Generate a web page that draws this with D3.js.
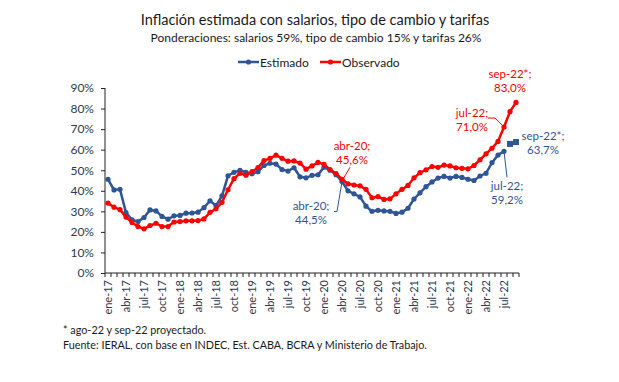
<!DOCTYPE html>
<html><head><meta charset="utf-8">
<script src="https://cdn.jsdelivr.net/npm/d3@7"></script>
<style>body{margin:0;background:#fff}svg{display:block}text{font-family:Lato,"Open Sans",sans-serif}</style>
</head><body><svg id="c" width="619" height="382"></svg>
<script>
const monthNames = ["ene","feb","mar","abr","may","jun","jul","ago","sep","oct","nov","dic"];
const years = ["17","18","19","20","21","22"];
const categories = [];
years.forEach(y => monthNames.forEach(m => categories.push(m + "-" + y)));
categories.splice(69); // ene-17 .. sep-22

const estimado = [
  45.6, 40.4, 40.7, 29.4, 25.9, 25.0, 27.0, 30.7, 30.2, 27.5, 26.2, 27.8,
  28.0, 29.1, 29.2, 29.6, 31.8, 35.1, 32.8, 37.5, 47.3, 49.0, 49.9, 49.0,
  48.3, 49.3, 52.3, 53.4, 53.0, 50.3, 49.6, 51.2, 46.8, 46.3, 47.5, 47.8,
  51.5, 50.0, 47.8, 44.5, 40.0, 38.5, 37.0, 32.5, 30.0, 30.5, 30.2, 30.0,
  29.0, 29.6, 31.5, 36.0, 39.0, 42.0, 44.3, 46.2, 47.0, 46.2, 47.0, 46.5,
  45.6, 45.0, 47.2, 48.5, 53.7, 57.4, 59.2
];
const estimadoProy = [62.8, 63.7]; // ago-22, sep-22
const observado = [
  34.0, 32.0, 30.8, 27.2, 24.6, 22.6, 21.5, 23.1, 24.2, 22.6, 22.6, 24.8,
  25.0, 25.4, 25.4, 25.5, 26.3, 29.5, 31.2, 34.4, 40.5, 45.9, 48.5, 47.6,
  49.3, 51.3, 54.7, 55.8, 57.3, 55.8, 54.4, 54.5, 53.5, 50.5, 52.1, 53.8,
  52.9, 50.3, 48.4, 45.6, 43.4, 42.8, 42.4, 40.7, 36.6, 37.2, 35.8, 36.1,
  38.5, 40.7, 42.6, 46.3, 48.8, 50.2, 51.8, 51.4, 52.5, 52.1, 51.2, 50.9,
  50.7, 52.3, 55.1, 58.0, 60.7, 64.0, 71.0, 78.5, 83.0
];
const xTickLabels = ["ene-17","abr-17","jul-17","oct-17","ene-18","abr-18","jul-18","oct-18",
  "ene-19","abr-19","jul-19","oct-19","ene-20","abr-20","jul-20","oct-20","ene-21","abr-21",
  "jul-21","oct-21","ene-22","abr-22","jul-22"];
const yTicks = [0,10,20,30,40,50,60,70,80,90];

const BLUE = "#2F5597", RED = "#FF0000", TXT = "#2b3a4f";
const svg = d3.select("#c");
const x = d3.scaleBand().domain(categories).range([105, 519]).padding(0);
const cx = c => x(c) + x.bandwidth() / 2;
const y = d3.scaleLinear().domain([0, 90]).range([273, 88]);

// Title
svg.append("text").attr("x", 315).attr("y", 25).attr("text-anchor", "middle")
  .attr("font-size", 14.5).attr("fill", "#1a1a1a").text("Inflación estimada con salarios, tipo de cambio y tarifas");
svg.append("text").attr("x", 316).attr("y", 42).attr("text-anchor", "middle")
  .attr("font-size", 12).attr("fill", "#1a1a1a").text("Ponderaciones: salarios 59%, tipo de cambio 15% y tarifas 26%");

// Legend
const legend = [{name:"Estimado", color:BLUE, x:238}, {name:"Observado", color:RED, x:320}];
legend.forEach(l => {
  svg.append("line").attr("x1", l.x).attr("x2", l.x + 21).attr("y1", 62).attr("y2", 62)
    .attr("stroke", l.color).attr("stroke-width", 2.5);
  svg.append("circle").attr("cx", l.x + 10.5).attr("cy", 62).attr("r", 2.6).attr("fill", l.color);
  svg.append("text").attr("x", l.x + 22).attr("y", 66.5).attr("font-size", 12).attr("fill", "#1a1a1a").text(l.name);
});

// Y axis
const yAxis = d3.axisLeft(y).tickValues(yTicks).tickSize(4).tickPadding(7).tickFormat(d => d + "%");
const gy = svg.append("g").attr("transform", "translate(105,0)").call(yAxis);
gy.select(".domain").attr("stroke", "#222").attr("d", "M0,88V273");
gy.selectAll(".tick line").attr("stroke", "#222");
gy.selectAll(".tick text").attr("font-size", 12).attr("fill", TXT).attr("font-family", "Lato,sans-serif");

// X axis
svg.append("line").attr("x1", 105).attr("x2", 519).attr("y1", 273).attr("y2", 273).attr("stroke", "#222");
const bounds = categories.map(c => x(c)).concat([x(categories[categories.length - 1]) + x.bandwidth()]);
svg.append("g").selectAll("line").data(bounds).join("line")
  .attr("x1", d => d).attr("x2", d => d).attr("y1", 273).attr("y2", 277).attr("stroke", "#222");
svg.append("g").selectAll("text").data(xTickLabels).join("text")
  .attr("transform", d => `translate(${cx(d) + 4},280) rotate(-90)`)
  .attr("text-anchor", "end").attr("font-size", 11).attr("fill", TXT).text(d => d);

// Lines
const line = d3.line().x(d => cx(d.c)).y(d => y(d.v));
const obsData = observado.map((v, i) => ({c: categories[i], v}));
const estData = estimado.map((v, i) => ({c: categories[i], v}));
const proyData = estimadoProy.map((v, i) => ({c: categories[estimado.length + i], v}));

svg.append("path").datum(estData).attr("d", line).attr("fill", "none").attr("stroke", BLUE).attr("stroke-width", 2.5);
svg.append("g").selectAll("circle").data(estData).join("circle")
  .attr("cx", d => cx(d.c)).attr("cy", d => y(d.v)).attr("r", 2.6).attr("fill", BLUE);
svg.append("path").datum(proyData).attr("d", line).attr("fill", "none").attr("stroke", BLUE).attr("stroke-width", 2.5);
svg.append("g").selectAll("rect").data(proyData).join("rect")
  .attr("x", d => cx(d.c) - 3).attr("y", d => y(d.v) - 3).attr("width", 6).attr("height", 6).attr("fill", BLUE);

svg.append("path").datum(obsData).attr("d", line).attr("fill", "none").attr("stroke", RED).attr("stroke-width", 2.5);
svg.append("g").selectAll("circle").data(obsData).join("circle")
  .attr("cx", d => cx(d.c)).attr("cy", d => y(d.v)).attr("r", 2.6).attr("fill", RED);

// Annotations
function label(px, py, dx, dy, l1, l2, color) {
  const g = svg.append("g").attr("fill", color).attr("font-size", 11.5).attr("text-anchor", "middle");
  g.append("text").attr("x", px + dx).attr("y", py + dy).text(l1);
  g.append("text").attr("x", px + dx).attr("y", py + dy + 14).text(l2);
}
function leader(pts, color) {
  svg.append("path").attr("d", d3.line()(pts)).attr("fill", "none").attr("stroke", color).attr("stroke-width", 1);
}
// abr-20
{
  const c = "abr-20", i = categories.indexOf(c);
  const px = cx(c), pr = y(observado[i]), pb = y(estimado[i]);
  label(px, pr, 10, -29, "abr-20;", "45,6%", RED);
  leader([[px + 8, pr - 12], [px + 1, pr]], RED);
  label(px, pb, -31, 28, "abr-20;", "44,5%", BLUE);
  leader([[px, pb], [px - 5, pb + 30], [px - 8, pb + 30]], BLUE);
}
// jul-22
{
  const c = "jul-22", i = categories.indexOf(c);
  const px = cx(c), pr = y(observado[i]), pb = y(estimado[i]);
  label(px, pr, -32, -10, "jul-22;", "71,0%", RED);
  leader([[px - 16, pr - 9], [px - 9, pr - 9], [px - 1, pr - 1]], RED);
  label(px, pb, 3, 39, "jul-22;", "59,2%", BLUE);
  leader([[px, pb], [px + 3, pb + 26]], BLUE);
}
// sep-22
{
  const c = "sep-22", i = categories.indexOf(c);
  const px = cx(c), pr = y(observado[i]), pb = y(estimadoProy[1]);
  label(px, pr, -6, -24, "sep-22*;", "83,0%", RED);
  label(px, pb, 27, -2, "sep-22*;", "63,7%", BLUE);
}

// Footnotes
svg.append("text").attr("x", 63).attr("y", 334).attr("font-size", 10.8).attr("fill", "#1a1a1a").text("* ago-22 y sep-22 proyectado.");
svg.append("text").attr("x", 63).attr("y", 349).attr("font-size", 10.8).attr("fill", "#1a1a1a").text("Fuente: IERAL, con base en INDEC, Est. CABA, BCRA y Ministerio de Trabajo.");
</script></body></html>
